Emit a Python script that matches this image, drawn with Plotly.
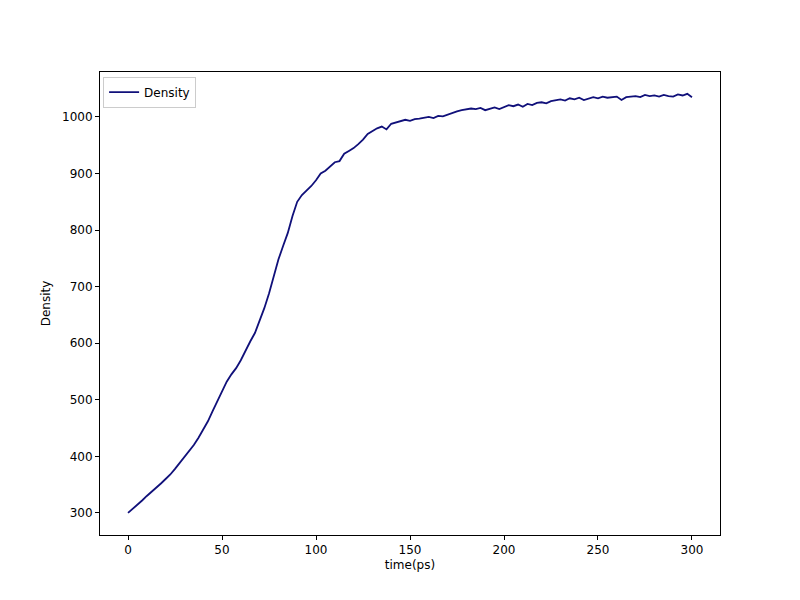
import plotly.graph_objects as go

time_ps = [i * 2.5 for i in range(121)]
density = [300,307,315,322,330,337,344,352,360,368,378,388,398,408,420,433,447,462,480,497,
           515,532,545,556,570,588,603,618,640,662,688,720,748,772,795,825,850,862,870,878,
           888,900,905,912,920,922,935,940,945,952,960,970,975,980,983,978,988,990,992,995,
           993,996,997,999,1000,998,1002,1001,1004,1008,1010,1012,1013,1015,1014,1016,1012,1015,1017,1014,
           1018,1021,1019,1022,1018,1023,1021,1025,1026,1024,1028,1030,1031,1029,1033,1031,1034,1030,1033,1035,
           1033,1036,1034,1035,1036,1030,1035,1036,1037,1035,1039,1037,1038,1036,1039,1037,1036,1040,1038,1041,1035]

fig = go.Figure(go.Scatter(x=time_ps, y=density, mode="lines", name="Density",
                           line=dict(color="#10107a", width=1.8)))
ax = dict(showgrid=False, zeroline=False, showline=True, linecolor="black", mirror=True,
          ticks="outside", ticklen=4, tickcolor="black", tickfont=dict(size=12, color="black"))
fig.update_layout(
    width=800, height=600, plot_bgcolor="white", paper_bgcolor="white",
    font=dict(family="DejaVu Sans", size=12, color="black"),
    margin=dict(l=92, r=88, t=64, b=73),
    showlegend=True,
    legend=dict(x=0.005, y=0.99, xanchor="left", yanchor="top", bordercolor="#cccccc",
                borderwidth=1, bgcolor="white", font=dict(size=12), tracegroupgap=0),
    xaxis=dict(ax, range=[-14.9, 314.9], tickvals=[0,50,100,150,200,250,300],
               title=dict(text="time(ps)", standoff=4, font=dict(size=12))),
    yaxis=dict(ax, range=[261, 1079.5], tickvals=[300,400,500,600,700,800,900,1000],
               title=dict(text="Density", standoff=8, font=dict(size=12))),
)
fig.write_html("out.html")
